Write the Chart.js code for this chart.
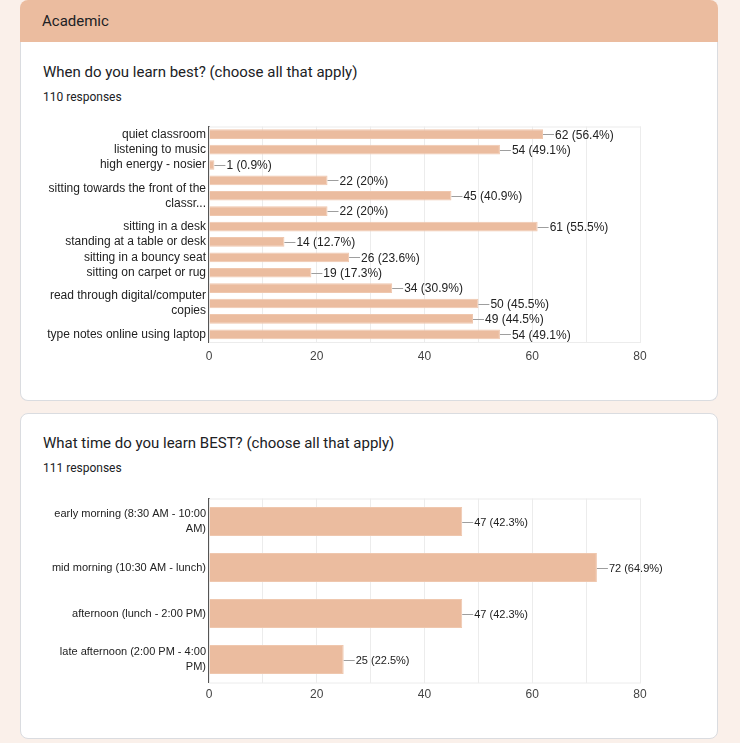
<!DOCTYPE html>
<html>
<head>
<meta charset="utf-8">
<script src="https://cdn.jsdelivr.net/npm/chart.js@4.4.1/dist/chart.umd.min.js"></script>
<style>
  html, body { margin: 0; padding: 0; background: #faf0ea; width: 740px; height: 743px; overflow: hidden; }
  .header { position: absolute; left: 20px; top: 0; width: 698px; height: 42px; background: #ebbc9f;
            border-radius: 8px 8px 0 0; }
  .header span { position: absolute; left: 22px; top: 12px; font: 15px Roboto, sans-serif; color: #202124; }
  .card { position: absolute; left: 20px; width: 696px; background: #fff; border: 1px solid #dadce0; }
  #card1 { top: 42px; height: 358px; border-top: none; border-radius: 0 0 8px 8px; }
  #card2 { top: 413px; height: 324px; border-radius: 8px; }
  .q { position: absolute; left: 22px; font: 15px Roboto, sans-serif; color: #202124; }
  .n { position: absolute; left: 22px; font: 12px Roboto, sans-serif; color: #202124; }
  .wrap { position: absolute; left: 20px; width: 698px; }
</style>
</head>
<body>
<div class="header"><span>Academic</span></div>
<div class="card" id="card1">
  <div class="q" style="top:21px">When do you learn best? (choose all that apply)</div>
  <div class="n" style="top:48px">110 responses</div>
</div>
<div class="card" id="card2">
  <div class="q" style="top:20px">What time do you learn BEST? (choose all that apply)</div>
  <div class="n" style="top:47px">111 responses</div>
</div>
<div class="wrap" style="top:120px;height:260px"><canvas id="c1"></canvas></div>
<div class="wrap" style="top:490px;height:230px"><canvas id="c2"></canvas></div>

<script>
// chart 1: when do you learn best (some row labels are hidden like in the original)
const learnLabels = [
  'quiet classroom',
  'listening to music',
  'high energy - nosier',
  '',
  ['sitting towards the front of the', 'classr...'],
  '',
  'sitting in a desk',
  'standing at a table or desk',
  'sitting in a bouncy seat',
  'sitting on carpet or rug',
  '',
  ['read through digital/computer', 'copies'],
  '',
  'type notes online using laptop'
];
const learnCounts = [62, 54, 1, 22, 45, 22, 61, 14, 26, 19, 34, 50, 49, 54];
const learnPct = [56.4, 49.1, 0.9, 20, 40.9, 20, 55.5, 12.7, 23.6, 17.3, 30.9, 45.5, 44.5, 49.1];

// chart 2: what time do you learn best
const timeLabels = [
  ['early morning (8:30 AM - 10:00', 'AM)'],
  'mid morning (10:30 AM - lunch)',
  'afternoon (lunch - 2:00 PM)',
  ['late afternoon (2:00 PM - 4:00', 'PM)']
];
const timeCounts = [47, 72, 47, 25];
const timePct = [42.3, 64.9, 42.3, 22.5];

const xTicks = [0, 20, 40, 60, 80];

const BAR = '#ebbc9f';
Chart.defaults.font.family = 'Arial, "Liberation Sans", sans-serif';

// value labels with the little connector line
const valueLabels = {
  id: 'valueLabels',
  afterDatasetsDraw(chart, args, opts) {
    const ctx = chart.ctx;
    const meta = chart.getDatasetMeta(0);
    const ds = chart.data.datasets[0];
    ctx.save();
    ctx.font = opts.size + 'px Arial, "Liberation Sans", sans-serif';
    ctx.textBaseline = 'middle';
    ctx.textAlign = 'left';
    meta.data.forEach((bar, i) => {
      const y = Math.round(bar.y) + 0.5;
      ctx.strokeStyle = '#9e9e9e';
      ctx.lineWidth = 1;
      ctx.beginPath();
      ctx.moveTo(bar.x, y);
      ctx.lineTo(bar.x + 11, y);
      ctx.stroke();
      ctx.fillStyle = '#222';
      ctx.fillText(ds.data[i] + ' (' + opts.pct[i] + '%)', bar.x + 12, bar.y + 1);
    });
    ctx.restore();
  }
};

// light frame round the plot area
const frame = {
  id: 'frame',
  beforeDatasetsDraw(chart) {
    const a = chart.chartArea, ctx = chart.ctx;
    ctx.save();
    ctx.strokeStyle = '#ececec';
    ctx.lineWidth = 1;
    ctx.strokeRect(a.left + 0.5, a.top + 0.5, a.right - a.left, a.bottom - a.top);
    ctx.restore();
  }
};

function makeChart(id, labels, counts, pct, opt) {
  return new Chart(document.getElementById(id), {
    type: 'bar',
    data: {
      labels: labels,
      datasets: [{
        data: counts,
        backgroundColor: BAR,
        borderColor: '#efc7ae',
        borderWidth: 1,
        barPercentage: 0.63,
        categoryPercentage: 1
      }]
    },
    options: {
      indexAxis: 'y',
      responsive: true,
      maintainAspectRatio: false,
      animation: false,
      layout: { padding: { top: opt.top, right: 78, bottom: 0, left: 0 } },
      plugins: {
        legend: { display: false },
        tooltip: { enabled: false },
        valueLabels: { pct: pct, size: opt.valSize }
      },
      scales: {
        x: {
          min: 0, max: 80,
          afterFit: s => { s.height = opt.xh; },
          ticks: {
            stepSize: 10,
            color: '#444',
            font: { size: 12 },
            padding: opt.tickPad,
            maxRotation: 0,
            callback: v => xTicks.includes(v) ? String(v) : ''
          },
          grid: { color: '#ececec', drawTicks: false },
          border: { display: false }
        },
        y: {
          // fixed width, and no extra room asked for the first/last label
          afterFit: s => { s.width = 189; s.paddingTop = 0; s.paddingBottom = 0; },
          ticks: {
            autoSkip: false,
            color: '#222',
            padding: 3,
            font: { size: opt.catSize, lineHeight: opt.lh }
          },
          grid: { display: false, drawTicks: false },
          border: { display: true, color: '#555', width: 2 }
        }
      }
    },
    plugins: [frame, valueLabels]
  });
}

makeChart('c1', learnLabels, learnCounts, learnPct,
  { top: 6.5, xh: 38, tickPad: 7, catSize: 12, lh: 1.25, valSize: 12 });
makeChart('c2', timeLabels, timeCounts, timePct,
  { top: 8.5, xh: 37.5, tickPad: 5, catSize: 11, lh: 1.3, valSize: 11 });
</script>
</body>
</html>
